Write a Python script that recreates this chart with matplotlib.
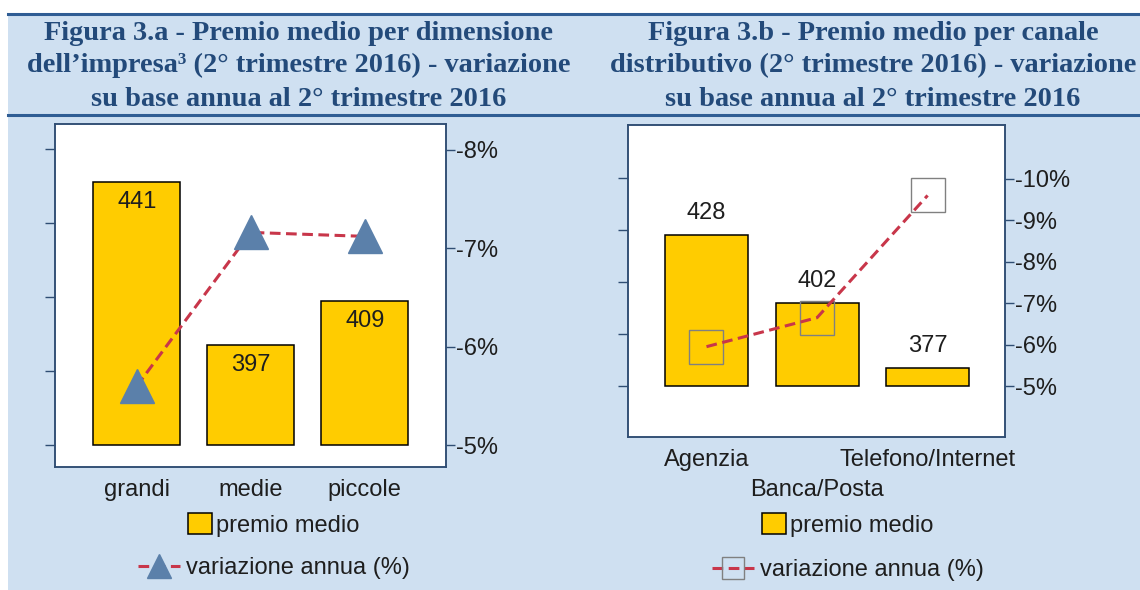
import matplotlib
matplotlib.use("Agg")
import matplotlib.pyplot as plt
from matplotlib.lines import Line2D
from matplotlib.patches import Rectangle
import numpy as np

# ---------------- data ----------------
cat_a = ["grandi", "medie", "piccole"]
premio_a = [441, 397, 409]
var_a = [-5.6, -7.16, -7.12]

cat_b = ["Agenzia", "Banca/Posta", "Telefono/Internet"]
premio_b = [428, 402, 377]
var_b = [-5.95, -6.65, -9.6]

title_a = ["Figura 3.a - Premio medio per dimensione",
           "dell\u2019impresa\u00b3 (2\u00b0 trimestre 2016) - variazione",
           "su base annua al 2\u00b0 trimestre 2016"]
title_b = ["Figura 3.b - Premio medio per canale",
           "distributivo (2\u00b0 trimestre 2016) - variazione",
           "su base annua al 2\u00b0 trimestre 2016"]

left_ticks = [370, 390, 410, 430, 450]
pct_ticks_a = [-8, -7, -6, -5]
pct_ticks_b = [-10, -9, -8, -7, -6, -5]
bar_base = 370

# ---------------- style ----------------
W, H = 1140, 590
BG = "#cfe0f1"
HDR_LINE = "#2f5d94"
TITLE_C = "#234a7a"
SPINE = "#2f4d73"
BAR_C = "#ffcc00"
LINE_C = "#c8364a"
TRI_C = "#5b80aa"
SQ_C = "#808080"
TXT = "#1e1e1e"
FS = 17

plt.rcParams["font.family"] = ["Liberation Sans", "DejaVu Sans"]

fig = plt.figure(figsize=(W / 100, H / 100), dpi=100)
fig.patch.set_facecolor("white")

def fx(px):
    return px / W

def fy(py):
    return 1 - py / H

# background and header lines
fig.add_artist(Rectangle((fx(8), 0), 1 - fx(8), fy(13), transform=fig.transFigure,
                         facecolor=BG, edgecolor="none", zorder=0))
fig.add_artist(Line2D([fx(8), 1], [fy(13.5), fy(13.5)], transform=fig.transFigure,
                      color=HDR_LINE, lw=2.2, zorder=1))
fig.add_artist(Line2D([fx(8), 1], [fy(115), fy(115)], transform=fig.transFigure,
                      color=HDR_LINE, lw=2.2, zorder=1))

baselines = [40, 72.5, 106]
for lines, cx in ((title_a, 299), (title_b, 873)):
    for txt, by in zip(lines, baselines):
        fig.text(fx(cx), fy(by), txt, ha="center", va="baseline",
                 family=["Liberation Serif", "DejaVu Serif"], fontweight="bold",
                 fontsize=20.4, color=TITLE_C)


def panel(rect_px, cats, premio, var, ylim_l, ylim_r, xlim, width, pct_ticks,
          label_inside, marker, stagger, leg_cx, leg_rows):
    x0, y0, x1, y1 = rect_px
    ax = fig.add_axes([fx(x0), fy(y1), fx(x1 - x0), (y1 - y0) / H])
    ax.set_facecolor("white")
    x = np.arange(len(cats))
    bars = ax.bar(x, np.array(premio) - bar_base, bottom=bar_base, width=width,
                  color=BAR_C, edgecolor="black", linewidth=1.1, zorder=2,
                  label="premio medio")
    ax.set_xlim(*xlim)
    ax.set_ylim(*ylim_l)
    ax.set_yticks(left_ticks)
    ax.tick_params(axis="y", left=True, labelleft=False, length=7, width=1.0,
                   color=SPINE, direction="out")
    ax.set_xticks(x)
    ax.set_xticklabels(cats, fontsize=FS, color=TXT)
    ax.tick_params(axis="x", length=0, pad=8.5)
    if stagger:
        ax.xaxis.get_major_ticks()[1].set_pad(8.5 + 22)
    for s in ax.spines.values():
        s.set_color(SPINE)
        s.set_linewidth(1.1)
    for xi, v in zip(x, premio):
        if label_inside:
            ax.annotate(str(v), (xi, v), xytext=(0, -20), textcoords="offset pixels",
                        ha="center", va="center", fontsize=FS, color=TXT, zorder=3)
        else:
            ax.annotate(str(v), (xi, v), xytext=(0, 22), textcoords="offset pixels",
                        ha="center", va="center", fontsize=FS, color=TXT, zorder=3)

    ax2 = ax.twinx()
    ax2.set_ylim(*ylim_r)
    ax2.set_yticks(pct_ticks)
    ax2.set_yticklabels([f"{t}%" for t in pct_ticks], fontsize=FS, color=TXT)
    ax2.tick_params(axis="y", length=6.5, width=1.0, color=SPINE, pad=0.5)
    for s in ax2.spines.values():
        s.set_color(SPINE)
        s.set_linewidth(1.1)
    ax2.plot(x, var, color=LINE_C, lw=2.2, dashes=(3.5, 1.8), zorder=3)
    if marker == "^":
        ax2.plot(x, var, linestyle="none", marker="^", markersize=25,
                 markerfacecolor=TRI_C, markeredgecolor=TRI_C, zorder=4)
        mk = Line2D([], [], color=LINE_C, lw=2.2, dashes=(3.5, 1.8), marker="^",
                    markersize=17, markerfacecolor=TRI_C, markeredgecolor=TRI_C)
    else:
        ax2.plot(x, var, linestyle="none", marker="s", markersize=24,
                 markerfacecolor="none", markeredgecolor=SQ_C, markeredgewidth=1.0,
                 zorder=2.5)
        mk = Line2D([], [], color=LINE_C, lw=2.2, dashes=(3.5, 1.8), marker="s",
                    markersize=16, markerfacecolor="none", markeredgecolor=SQ_C,
                    markeredgewidth=1.0)

    fig.legend(handles=[bars], labels=["premio medio"], loc="center",
               bbox_to_anchor=(fx(leg_cx), fy(leg_rows[0])), frameon=False,
               fontsize=FS, handlelength=1.0, handleheight=1.0, handletextpad=0.2,
               borderpad=0, labelcolor=TXT)
    fig.legend(handles=[mk], labels=["variazione annua (%)"], loc="center",
               bbox_to_anchor=(fx(leg_cx), fy(leg_rows[1])), frameon=False,
               fontsize=FS, handlelength=1.8, handletextpad=0.25,
               borderpad=0, labelcolor=TXT)
    return ax, ax2


panel((55, 124, 446, 467), cat_a, premio_a, var_a,
      (364.05, 456.8), (-4.78, -8.26), (-0.717, 2.713), 0.763, pct_ticks_a,
      True, "^", False, 274, (525, 568))

panel((628, 125, 1005, 437), cat_b, premio_b, var_b,
      (350.4, 470.4), (-3.77, -11.3), (-0.71, 2.70), 0.75, pct_ticks_b,
      False, "s", True, 848, (525, 570))

fig.savefig("out.png", dpi=100, facecolor=fig.get_facecolor())
